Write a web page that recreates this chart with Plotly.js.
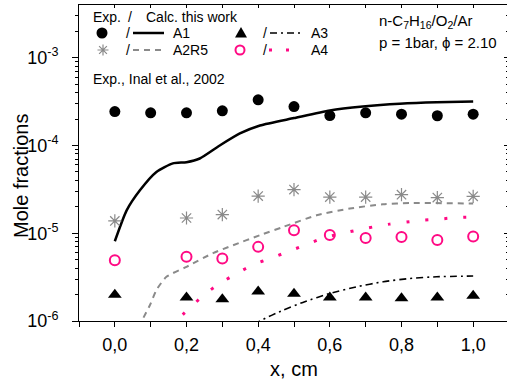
<!DOCTYPE html>
<html>
<head>
<meta charset="utf-8">
<script src="https://cdn.plot.ly/plotly-3.0.1.min.js"></script>
<style>
html,body{margin:0;padding:0;overflow:hidden;background:#fff;}
#chart{width:510px;height:385px;}
</style>
</head>
<body>
<div id="chart"></div>
<script>
// ---- data ----
var xExpA1 = [0.0,0.1,0.2,0.3,0.4,0.5,0.6,0.7,0.8,0.9,1.0];
var expA1 = [2.43e-4,2.35e-4,2.35e-4,2.48e-4,3.31e-4,2.77e-4,2.19e-4,2.35e-4,2.27e-4,2.18e-4,2.27e-4];

var xExp = [0.0,0.2,0.3,0.4,0.5,0.6,0.7,0.8,0.9,1.0];
var expA2R5 = [1.38e-5,1.49e-5,1.63e-5,2.65e-5,3.14e-5,2.58e-5,2.58e-5,2.75e-5,2.55e-5,2.63e-5];
var expA3 = [1.99e-6,1.85e-6,1.77e-6,2.17e-6,2.04e-6,1.85e-6,1.85e-6,1.82e-6,1.85e-6,1.94e-6];
var expA4 = [4.93e-6,5.38e-6,5.16e-6,6.99e-6,1.08e-5,9.56e-6,8.82e-6,9.06e-6,8.39e-6,9.17e-6];

var xCalcA1 = [0.0,0.033,0.07,0.116,0.162,0.2,0.237,0.293,0.349,0.405,0.5,0.6,0.692,0.795,0.898,1.0];
var calcA1 = [8.1e-6,1.82e-5,3.08e-5,4.98e-5,6.24e-5,6.45e-5,7.1e-5,1.0e-4,1.37e-4,1.69e-4,2.05e-4,2.5e-4,2.77e-4,2.98e-4,3.1e-4,3.16e-4];

var xCalcA2R5 = [0.05,0.075,0.098,0.116,0.144,0.2,0.274,0.33,0.405,0.47,0.563,0.656,0.748,0.823,1.0];
var calcA2R5 = [6.6e-7,1.0e-6,1.52e-6,2.25e-6,3.19e-6,4.14e-6,5.93e-6,7.3e-6,9.5e-6,1.18e-5,1.6e-5,1.91e-5,2.14e-5,2.21e-5,2.18e-5];

var xCalcA3 = [0.35,0.405,0.47,0.53,0.6,0.674,0.749,0.823,0.898,1.0];
var calcA3 = [7e-7,1.0e-6,1.33e-6,1.66e-6,2.06e-6,2.45e-6,2.8e-6,3.05e-6,3.19e-6,3.25e-6];

var xCalcA4 = [0.15,0.203,0.248,0.295,0.341,0.388,0.435,0.481,0.53,0.577,0.625,0.674,0.721,0.767,0.814,0.86,0.907,0.954,1.0];
var calcA4 = [8.4e-7,1.33e-6,1.97e-6,2.72e-6,3.48e-6,4.44e-6,5.16e-6,6.13e-6,7.3e-6,8.7e-6,9.75e-6,1.08e-5,1.18e-5,1.27e-5,1.34e-5,1.41e-5,1.45e-5,1.51e-5,1.53e-5];

var yTickVals = [1e-6,1e-5,1e-4,1e-3];
var yTickText = ['10<sup>-6</sup>','10<sup>-5</sup>','10<sup>-4</sup>','10<sup>-3</sup>'];

// ---- styling ----
var FONT = 'Liberation Sans, Arial, Helvetica, sans-serif';
var PINK = '#ff0a84';
var GRAY = '#8a8a8a';

var minorY = [];
for (var e = -6; e <= -3; e++) {
  for (var m = 2; m <= 9; m++) minorY.push(m * Math.pow(10, e));
}

// plot area in pixels: x 79..509, y 5..321
function PX(px){ return (px - 79) / 430; }
function PY(py){ return (321 - py) / 316; }

var traces = [
  {x:xCalcA1, y:calcA1, mode:'lines', line:{color:'#000', width:2.5, shape:'spline', smoothing:0.6}, showlegend:false, hoverinfo:'skip'},
  {x:xCalcA2R5, y:calcA2R5, mode:'lines', line:{color:GRAY, width:2, dash:'6px,5px', shape:'spline', smoothing:0.6}, showlegend:false},
  {x:xCalcA3, y:calcA3, mode:'lines', line:{color:'#000', width:1.6, dash:'7px,4px,2px,4px', shape:'spline', smoothing:0.6}, showlegend:false},
  {x:xCalcA4, y:calcA4, mode:'lines', line:{color:PINK, width:3, dash:'3px,16px', shape:'spline', smoothing:0.6}, showlegend:false},
  {x:xExpA1, y:expA1, mode:'markers', marker:{symbol:'circle', size:11, color:'#000'}, showlegend:false},
  {x:xExp, y:expA2R5, mode:'markers', marker:{symbol:'asterisk-open', size:11, color:GRAY, line:{color:GRAY, width:1.2}}, showlegend:false},
  {x:xExp, y:expA3, mode:'markers', marker:{symbol:'triangle-up', size:12, color:'#000'}, showlegend:false},
  {x:xExp, y:expA4, mode:'markers', marker:{symbol:'circle-open', size:10, color:PINK, line:{color:PINK, width:2}}, showlegend:false},
  {x:[], y:[], xaxis:'x2', yaxis:'y2', mode:'markers', showlegend:false, hoverinfo:'skip'}
];

function txt(text, px, py, xanchor, size) {
  return {text:text, xref:'paper', yref:'paper', x:PX(px), y:PY(py), xanchor:xanchor||'left', yanchor:'middle',
          showarrow:false, font:{family:FONT, size:size||14, color:'#000'}};
}

var yTitle = txt('Mole fractions', 21, 175, 'center', 20);
yTitle.textangle = -90;

var annotations = [
  txt('Exp.', 91, 17),
  txt('/', 130, 17, 'center'),
  txt('Calc. this work', 144, 17),
  txt('/', 128, 33, 'center'),
  txt('A1', 171, 33),
  txt('/', 265, 33, 'center'),
  txt('A3', 309, 33),
  txt('/', 128, 50, 'center'),
  txt('A2R5', 171, 50),
  txt('/', 265, 50, 'center'),
  txt('A4', 309, 50),
  txt('Exp., Inal et al., 2002', 91, 79),
  txt('n-C<sub>7</sub>H<sub>16</sub>/O<sub>2</sub>/Ar', 377, 22, 'left', 15),
  txt('p = 1bar, \u03d5 = 2.10', 377, 43, 'left', 15),
  yTitle
];

function pshape(type, px, py, extra) {
  var s = {type:type, xref:'paper', yref:'paper', xsizemode:'pixel', ysizemode:'pixel', xanchor:PX(px), yanchor:PY(py)};
  for (var k in extra) s[k] = extra[k];
  return s;
}
function lineShape(x0, x1, py, color, width, dash) {
  return {type:'line', xref:'paper', yref:'paper', x0:PX(x0), x1:PX(x1), y0:PY(py), y1:PY(py),
          line:{color:color, width:width, dash:dash||'solid'}};
}

var shapes = [
  pshape('circle', 102, 33, {x0:-5.5, x1:5.5, y0:-5.5, y1:5.5, fillcolor:'#000', line:{width:0}}),
  pshape('path', 103, 50, {path:'M-5.5,0 L5.5,0 M0,-5.5 L0,5.5 M-3.9,-3.9 L3.9,3.9 M-3.9,3.9 L3.9,-3.9', line:{color:GRAY, width:1.2}}),
  pshape('path', 241, 33, {path:'M-6,-4.5 L6,-4.5 L0,6 Z', fillcolor:'#000', line:{width:0}}),
  pshape('circle', 240, 50, {x0:-4.5, x1:4.5, y0:-4.5, y1:4.5, line:{color:PINK, width:2}}),
  lineShape(133, 164, 33, '#000', 2.5),
  lineShape(133, 165, 50, GRAY, 2, '6px,5px'),
  lineShape(270, 303, 33, '#000', 1.6, '7px,4px,2px,4px'),
  lineShape(269, 290, 50, PINK, 3, '3px,14px')
];

var layout = {
  width:510, height:385,
  margin:{l:79, r:1, t:5, b:64},
  paper_bgcolor:'#fff', plot_bgcolor:'#fff',
  separators:',.',
  font:{family:FONT, size:18, color:'#000'},
  showlegend:false,
  xaxis:{
    range:[-0.1,1.1], tick0:0, dtick:0.2, tickformat:'.1f',
    ticks:'outside', ticklen:5, tickwidth:1, tickcolor:'#000',
    minor:{dtick:0.1, tick0:0, ticks:'outside', ticklen:5, tickwidth:1, tickcolor:'#000'},
    showline:true, linecolor:'#000', linewidth:1, showgrid:false, zeroline:false,
    tickfont:{family:FONT, size:18}, ticklabelstandoff:2,
    title:{text:'x, cm', font:{family:FONT, size:20}, standoff:8}
  },
  yaxis:{
    type:'log', range:[-6,-2.4], tickvals:yTickVals, ticktext:yTickText,
    ticks:'outside', ticklen:6, tickwidth:1, tickcolor:'#000',
    minor:{tickvals:minorY, ticks:'outside', ticklen:3, tickwidth:1, tickcolor:'#000'},
    showline:true, linecolor:'#000', linewidth:1, showgrid:false, zeroline:false,
    tickfont:{family:FONT, size:18}, ticklabelstandoff:10
  },
  xaxis2:{
    overlaying:'x', side:'top', range:[-0.1,1.1], tick0:0, dtick:0.1,
    ticks:'inside', ticklen:3, tickwidth:1, tickcolor:'#000', showticklabels:false,
    showline:true, linecolor:'#000', linewidth:1, showgrid:false, zeroline:false
  },
  yaxis2:{
    overlaying:'y', side:'right', type:'log', range:[-6,-2.4], tickvals:yTickVals,
    ticks:'inside', ticklen:5, tickwidth:1, tickcolor:'#000', showticklabels:false,
    minor:{tickvals:minorY, ticks:'inside', ticklen:3, tickwidth:1, tickcolor:'#000'},
    showline:true, linecolor:'#000', linewidth:1, showgrid:false, zeroline:false
  },
  annotations:annotations,
  shapes:shapes
};

Plotly.newPlot('chart', traces, layout, {staticPlot:true, displayModeBar:false});
</script>
</body>
</html>
